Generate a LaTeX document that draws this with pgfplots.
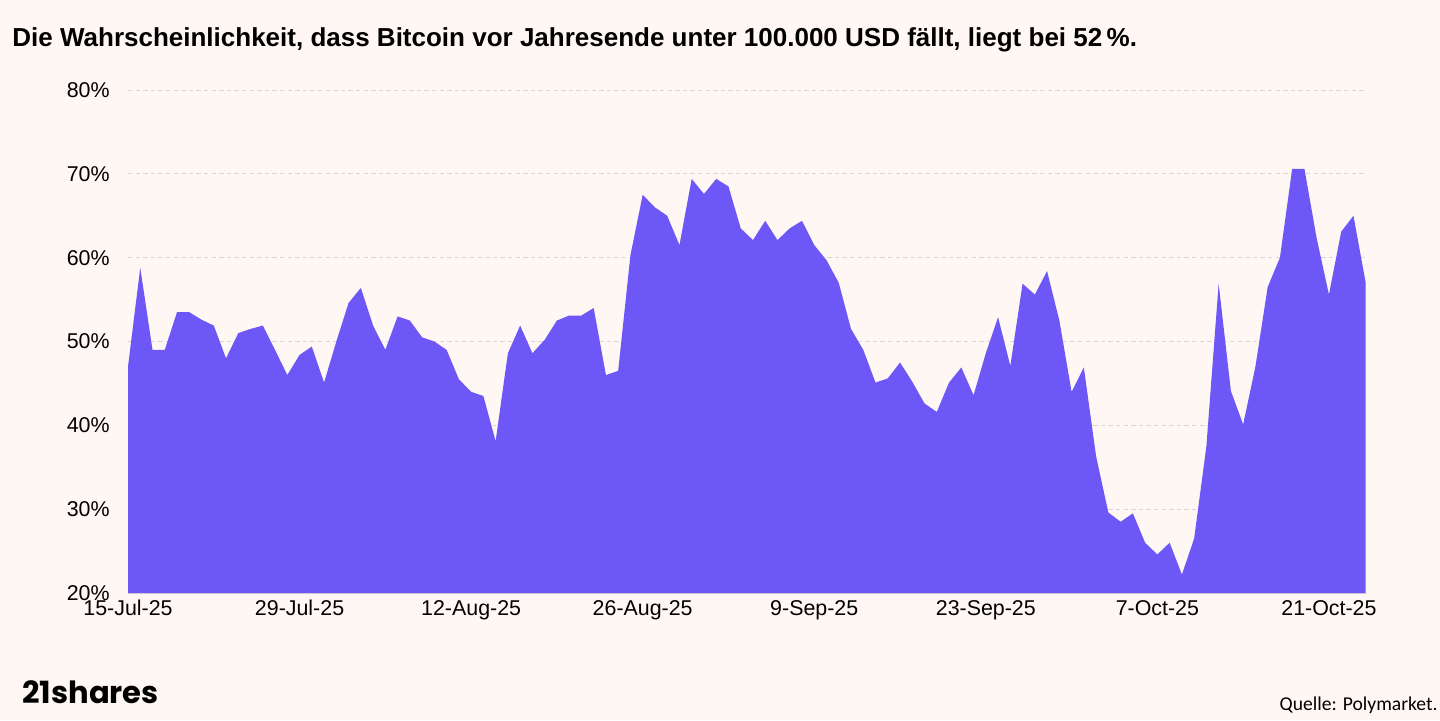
\documentclass[border=0pt]{standalone}
\usepackage{pgfplots}
\pgfplotsset{compat=1.18}
\usepackage{fontspec}
\setmainfont{Liberation Sans}
\newfontfamily\logofont{Poppins}
\newfontfamily\srcfont{Carlito}
\definecolor{bg}{HTML}{FFF7F4}
\definecolor{fillc}{HTML}{6E57F7}
\definecolor{gridc}{HTML}{DAD6D4}
\begin{document}
\begin{tikzpicture}
\fill[bg] (0,0) rectangle (720pt,360pt);
\useasboundingbox (0,0) rectangle (720pt,360pt);
\node[anchor=west, inner sep=0pt, font=\bfseries\fontsize{13pt}{15pt}\selectfont] at (6pt,340pt) {Die Wahrscheinlichkeit, dass Bitcoin vor Jahresende unter 100.000 USD fällt, liegt bei 52\,\%.};
\begin{axis}[
  at={(64pt,63.5pt)}, anchor=south west,
  scale only axis, width=618.85pt, height=251.5pt,
  xmin=0, xmax=101, ymin=20, ymax=80,
  ytick={20,30,40,50,60,70,80},
  yticklabel={\pgfmathprintnumber{\tick}\%},
  xtick={0,14,28,42,56,70,84,98},
  xticklabels={15-Jul-25,29-Jul-25,12-Aug-25,26-Aug-25,9-Sep-25,23-Sep-25,7-Oct-25,21-Oct-25},
  /pgf/number format/assume math mode=true,
  ticklabel style={font=\fontsize{10.7pt}{12pt}\selectfont},
  yticklabel style={anchor=east, inner sep=0pt, xshift=-9pt},
  xticklabel style={anchor=north, inner sep=0pt, yshift=-3.5pt},
  major tick length=0pt,
  axis lines*=left,
  y axis line style={draw=none},
  x axis line style={draw=gridc, -},
  ymajorgrids,
  major grid style={gridc, dash pattern=on 2.2pt off 1.6pt, line width=0.5pt},
  clip=true,
]
\addplot[fill=fillc, draw=none] table {
0 47.0
1 58.8
2 49.0
3 49.0
4 53.5
5 53.5
6 52.6
7 51.9
8 48.0
9 51.0
10 51.5
11 51.9
12 49.0
13 46.0
14 48.4
15 49.4
16 45.1
17 50.0
18 54.6
19 56.4
20 51.9
21 49.0
22 53.0
23 52.5
24 50.5
25 50.0
26 49.0
27 45.5
28 44.0
29 43.5
30 38.1
31 48.6
32 51.9
33 48.6
34 50.2
35 52.5
36 53.1
37 53.1
38 54.0
39 46.0
40 46.5
41 60.3
42 67.5
43 66.0
44 65.0
45 61.5
46 69.4
47 67.6
48 69.4
49 68.5
50 63.5
51 62.1
52 64.4
53 62.1
54 63.5
55 64.4
56 61.5
57 59.7
58 57.0
59 51.5
60 49.0
61 45.1
62 45.6
63 47.5
64 45.2
65 42.6
66 41.6
67 45.1
68 46.9
69 43.6
70 48.6
71 52.9
72 47.1
73 56.9
74 55.6
75 58.4
76 52.5
77 44.0
78 46.9
79 36.3
80 29.6
81 28.5
82 29.5
83 26.0
84 24.6
85 26.0
86 22.2
87 26.5
88 37.5
89 56.9
90 44.1
91 40.1
92 47.0
93 56.5
94 60.0
95 70.6
96 70.6
97 62.3
98 55.6
99 63.1
100 65.0
101 57.0
} \closedcycle;
\end{axis}
\node[anchor=west, inner sep=0pt, font=\logofont\bfseries\fontsize{15.3pt}{17pt}\selectfont] at (11pt,14pt) {21shares};
\node[anchor=east, inner sep=0pt, font=\srcfont\fontsize{9.8pt}{11pt}\selectfont] at (719pt,7.5pt) {Quelle: Polymarket.};
\end{tikzpicture}
\end{document}
